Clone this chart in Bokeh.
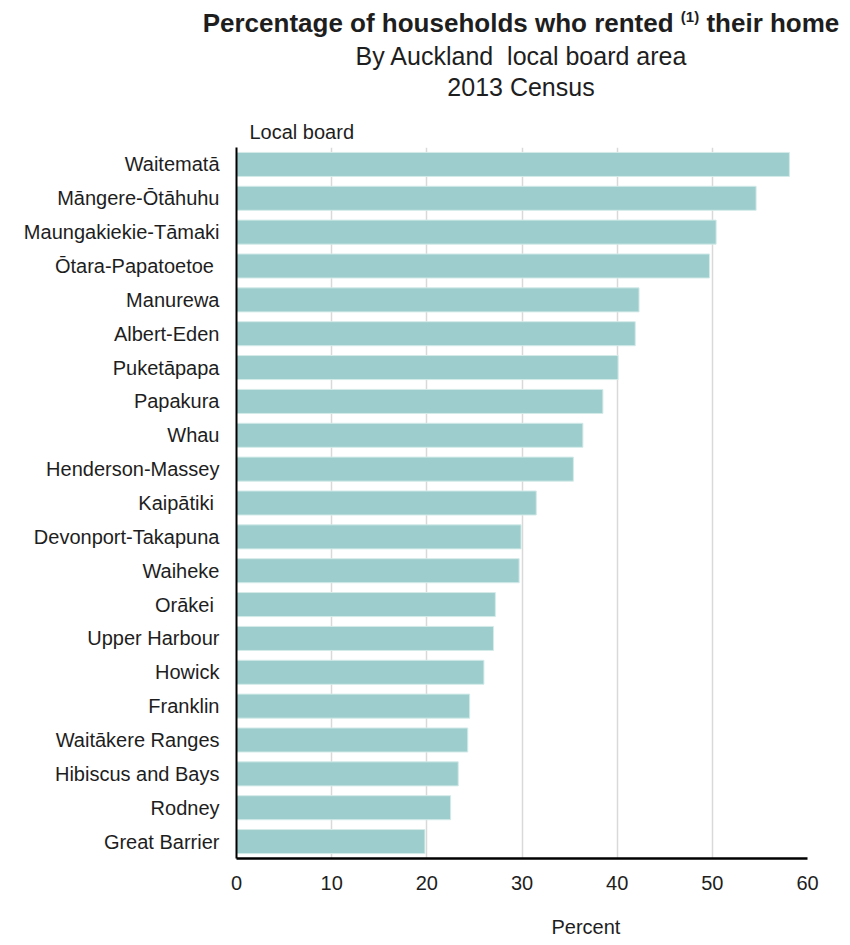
from bokeh.plotting import figure
from bokeh.models import ColumnDataSource, FactorRange, Range1d, FixedTicker, Title, Div
from bokeh.layouts import column
from bokeh.embed import file_html
from bokeh.resources import INLINE

# ---- data ----
boards = ["Waitematā", "Māngere-Ōtāhuhu", "Maungakiekie-Tāmaki", "Ōtara-Papatoetoe\u00a0",
          "Manurewa", "Albert-Eden", "Puketāpapa", "Papakura", "Whau", "Henderson-Massey",
          "Kaipātiki\u00a0", "Devonport-Takapuna", "Waiheke", "Orākei\u00a0", "Upper Harbour",
          "Howick", "Franklin", "Waitākere Ranges", "Hibiscus and Bays", "Rodney", "Great Barrier"]
percent_rented = [58.1, 54.6, 50.4, 49.7, 42.3, 41.9, 40.1, 38.5, 36.4, 35.4,
                  31.5, 29.9, 29.7, 27.2, 27.0, 26.0, 24.5, 24.3, 23.3, 22.5, 19.8]
x_ticks = [0, 10, 20, 30, 40, 50, 60]

title_main = "Percentage of households who rented"
title_note = "(1)"
title_end = "their home"
subtitle_1 = "By Auckland&nbsp; local board area"
subtitle_2 = "2013 Census"

FONT = "Liberation Sans"
TXT = "#1e1e1e"

src = ColumnDataSource(dict(board=boards, value=percent_rented))

HEAD_H = 110
p = figure(title=None,
           y_range=FactorRange(factors=list(reversed(boards))),
           x_range=Range1d(0, 60),
           frame_width=571, frame_height=711,
           min_border_left=236, min_border_right=35,
           min_border_top=147 - HEAD_H, min_border_bottom=79,
           output_backend="svg", toolbar_location=None)

p.hbar(y="board", right="value", height=0.71, source=src,
       fill_color="#9dcdcc", line_color="#d3ebe9", line_width=1)

p.outline_line_color = None
p.background_fill_color = "white"
p.border_fill_color = "white"

p.ygrid.grid_line_color = None
p.xgrid.grid_line_color = "#d9d9d9"
p.xgrid.grid_line_width = 1.5
p.xaxis.ticker = FixedTicker(ticks=x_ticks)

for ax in (p.xaxis, p.yaxis):
    ax.major_tick_line_color = None
    ax.minor_tick_line_color = None
    ax.major_tick_out = 0
    ax.major_tick_in = 0
    ax.axis_line_color = "black"
    ax.major_label_text_font = FONT
    ax.major_label_text_font_size = "20px"
    ax.major_label_text_color = TXT
p.xaxis.axis_line_width = 2.5
p.yaxis.axis_line_width = 2
p.xaxis.major_label_standoff = 17
p.yaxis.major_label_standoff = 17

p.add_layout(Title(text="Local board", align="left", offset=13, standoff=9,
                   text_font=FONT, text_font_size="20px", text_color=TXT,
                   text_font_style="normal"), "above")
p.add_layout(Title(text="Percent", align="left", offset=315, standoff=42,
                   text_font=FONT, text_font_size="20px", text_color=TXT,
                   text_font_style="normal"), "below")

line = ("position:absolute;left:521px;transform:translateX(-50%);white-space:nowrap;"
        "margin:0;padding:0;")
head_html = (
    f'<div style="position:relative;width:842px;height:{HEAD_H}px;margin:0;padding:0;'
    f"font-family:'{FONT}',Arial,sans-serif;color:{TXT};\">"
    f'<div style="{line}top:10px;font-size:26px;line-height:26px;font-weight:bold;">'
    f'{title_main} <span style="font-size:15px;line-height:0;position:relative;top:-10px;">'
    f'{title_note}</span> {title_end}</div>'
    f'<div style="{line}top:44px;font-size:25px;line-height:25px;">{subtitle_1}</div>'
    f'<div style="{line}top:75px;font-size:25px;line-height:25px;">{subtitle_2}</div>'
    '</div>'
)
head = Div(text=head_html, width=842, height=HEAD_H, margin=0)

layout = column(head, p, spacing=0, margin=0)
open("out.html", "w").write(file_html(layout, INLINE))
